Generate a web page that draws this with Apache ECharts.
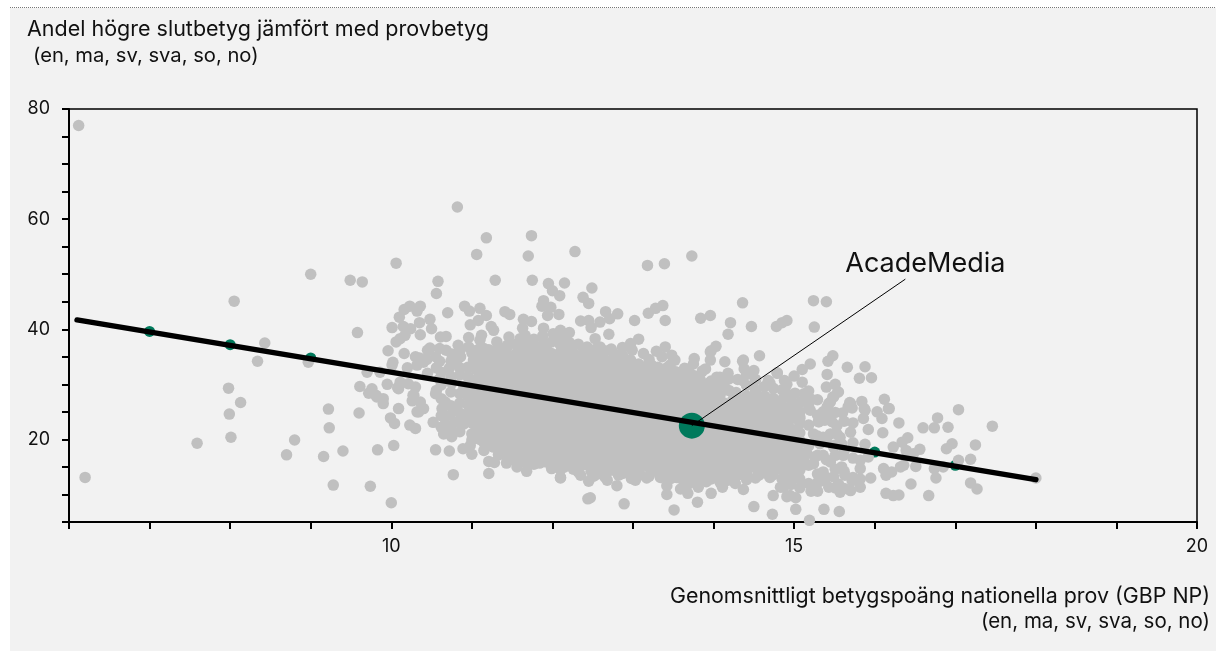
<!DOCTYPE html>
<html>
<head>
<meta charset="utf-8">
<script src="https://cdn.jsdelivr.net/npm/echarts@6/dist/echarts.min.js"></script>
<style>html,body{margin:0;padding:0;background:#fff}#c{width:1216px;height:651px}</style>
</head>
<body>
<div id="c"></div>
<script>
const titleLines = ['Andel högre slutbetyg jämfört med provbetyg', ' (en, ma, sv, sva, so, no)'];
const xAxisLines = ['Genomsnittligt betygspoäng nationella prov (GBP NP)', '(en, ma, sv, sva, so, no)'];
const highlightName = 'AcadeMedia';
const xTickLabels = [10, 15, 20];
const yTickLabels = [20, 40, 60, 80];
const trendLine = [[6.1, 41.7], [18, 12.7]];
const groupPoints = [[7, 39.6], [8, 37.2], [9, 34.8], [16, 17.7], [17, 15.3]];
const highlightPoint = [[13.73, 22.5]];
const leaderLine = [[13.73, 22.5], [16.38, 49.1]];
const schools = [
[6.12,77],[6.2,13.1],[7.98,29.3],[8.13,26.7],[7.99,24.6],[8.01,20.4],[7.59,19.3],[8.8,19.9],[8.7,17.2],[9.16,16.9],[9.4,17.9],[9.22,25.5],[9.23,22.1],[9.28,11.7],[9.74,11.5],[10,8.5],[9.83,18.1],[10.03,18.9],[9.6,24.8],[10.09,25.6],[9.61,29.6],[9.76,29.2],[9.72,28.4],[9.81,28],[9.9,27.4],[9.9,26.5],[9.95,30],[10.08,29.4],[9.99,23.9],[10.04,22.9],[10.23,22.6],[10.3,22],[10.26,27],[10.27,28],[10.32,25],
[8.05,45.1],[9,50],[8.43,37.5],[8.34,34.2],[8.97,34],[9.58,39.4],[10.06,52],
[10.82,62.2],[11.18,56.6],[11.06,53.6],[11.74,57],[11.7,53.3],[9.49,48.9],[9.64,48.6],[10.58,48.7],[10.56,46.5],[11.29,48.9],[11.75,48.9],[11.95,48.3],[12.15,48.4],[12,47],[12.09,46.1],[11.89,45.2],[11.87,44.2],[11.98,44],[11.94,42.5],[12.08,42.7],[10.91,44.2],[10.97,43.3],[11.1,43.8],[11.18,42.5],[11.08,41.6],[10.98,40.8],[11.24,40.5],[11.27,39.8],[11.41,43.2],[11.47,42.7],[11.64,41.8],[11.74,41.4],[11.63,40.2],[11.89,40.2],[10.7,43],[10.36,44.2],[10.23,44.2],[10.16,43.6],[10.32,43.3],[10.1,42.2],[10.48,41.8],[10.35,41.2],[10.01,40.3],[10.15,40.5],[10.24,40.1],[10.5,40.1],[10.17,38.9],[10.36,39],[10.11,38.3],[10.06,37.7],[9.96,36.1],[10.16,35.6],[10.02,34],[10.35,34.8],[10.44,34.5],[10.48,36.6],[10.61,38.6],[10.68,38.7],[10.6,36.5],[10.68,36.2],[10.96,38.5],[11.12,38.9],[11.1,38],[10.83,37.1],[10.96,36.8],[11.06,36.2],[10.86,35],[11.02,34.4],[11.15,36.5],[11.31,37.7],[11.46,38.6],[11.6,38.3],[11.68,37.7],[11.44,36.8],[11.89,37.4],[12.01,39.2],[12.1,39.8],[12.18,39.2],[12.1,37.1],[11.93,36.2],[11.72,35.6],[11.52,35],[11.27,35],[10.81,33.8],[11.1,33.8],[12.18,37.4],[12.05,35.3],[11.44,34.1],
[12.28,54.1],[13.18,51.6],[13.39,51.9],[13.73,53.3],[12.49,47.5],[12.38,45.8],[12.45,44.7],[12.66,43.2],[12.81,42.8],[12.71,41.9],[12.35,41.5],[12.45,41.6],[12.59,41.3],[12.48,40.3],[12.7,39.1],[12.21,39.4],[12.12,38.6],[13.02,41.6],[13.19,42.9],[13.28,43.8],[13.37,44.3],[13.4,41.6],[13.84,42],[13.96,42.5],[14.21,41.2],[14.18,39.1],[14.36,44.8],[14.47,40.5],[14.78,40.5],[14.85,41.2],[14.91,41.6],[13.07,38.2],[12.97,37.4],[12.87,36.7],[12.99,36.2],[12.73,36.4],[13.13,35.6],[12.59,36.8],[12.53,38.3],[12.24,36.5],[12.39,36.2],[12.63,35],[12.74,34.4],[12.97,34.4],[13.07,33.7],[13.29,36],[13.4,36.8],[13.48,35.3],[13.36,35],[13.46,33.5],[13.23,33.5],[13.52,34.4],[13.76,34.7],[14.03,36.9],[13.97,36.1],[13.96,34.4],[14.14,34.1],[14.18,32],[14.36,34.2],[14.38,32.8],[14.5,32.5],[14.57,35.2],[13.69,32.8],[13.59,31.9],[13.42,31.6],[13.83,31],[13.9,32.8],[14.04,31.3],[14.12,30.7],[14.36,30.7],[14.52,30.8],[14.68,30.7],[14.79,32],[14.91,30],[12.24,34.4],[12.45,33.8],[12.61,32.8],[12.34,33.2],[12.14,33.2],[12.84,32.5],[13.05,31.6],[13.26,31.3],[12.51,31.3],[12.76,31],[12.26,31.3],[13.5,30.7],[12.9,30.1],[13.13,30.1],[13.75,30.1],[13.92,30.1],
[15.24,45.2],[15.4,45],[15.25,40.4],[15.48,35.2],[15.42,34.2],[15.2,33.7],[15.66,33.1],[15.88,33.2],[15.81,31.1],[15.96,31.2],[15.41,31.8],[14.37,34.4],[14.28,28.5],[14.79,32.1],[14.88,30.7],[14.7,30.2],[15.1,32.7],[15,31.5],[15.1,30.4],[14.91,28.3],[15.01,28.4],[15.12,28.3],[15.2,27.4],[15.55,28.6],[15.48,27.7],[15.43,26.5],[15.36,25],[15,26.3],[15.2,25.3],[15.07,24.1],[14.95,25.9],[14.64,27.7],[14.52,28.3],[14.54,26.5],[14.72,26.5],[14.83,25.9],[14.48,25.9],[14.64,25],[15.7,26.5],[15.67,25.9],[15.6,24.8],[15.84,26.9],[15.87,25.6],[15.86,23.8],[16.03,25],[16.12,27.3],[16.17,25.6],[16.09,23.8],[16.3,23],[16.6,22.1],[16.74,22.1],[16.78,23.9],[16.91,22.2],[17.04,25.4],[17.46,22.4],[15.7,21.3],[15.92,21.8],[16.1,21.2],[15.31,23.2],[15.47,23.2],[15.24,21],[15.45,21],[15.53,21],[15.57,20.4],[14.87,24.1],[14.74,24.7],[14.5,23.5],[14.25,24.1],[14.08,31.3],[14.04,29.2],[13.75,33.7],[13.96,35.9],
[14.91,28.1],[15.19,27.2],[15.54,28.6],[15.49,27.7],[15.45,26.8],[15.41,25.9],[15.3,23.2],[15.38,23.5],[15.53,22.5],[15.69,26.7],[15.72,25.7],[15.88,25.3],[16.18,25.6],[15.36,20.4],[15.59,19.2],[15.73,19.4],[15.88,19.1],[16.41,20.3],[16.34,19.5],[16.23,18.6],[16.39,18],[16.56,18.2],[16.48,17.4],[16.96,19.2],[16.89,18.3],[17.25,19],[17.19,16.4],[17.04,16.2],[15.61,17.1],[15.82,16.2],[15.92,16.8],[16.36,15.3],[16.32,15],[16.51,15.1],[16.74,14.7],[16.85,15],[16.76,13],[16.45,11.9],[16.67,9.8],[17.19,12.1],[17.27,11],[16.14,10.2],[16.23,9.8],[16.3,9.9],[16.11,14.7],[16.14,13.5],[16.21,14.1],[15.95,13],[15.82,14.7],[15.82,12.8],[15.72,12.5],[15.82,11.3],[15.7,10.7],[15.57,10.4],[15.55,11.9],[15.43,11.3],[15.36,12.5],[15.49,13.2],[15.63,13.5],[15.36,14.1],[15.59,15],[15.45,15.9],[15.26,16.8],[15.36,17.1],[15.51,17.1],[15.24,15.6],[15.12,16.2],[14.99,17.1],[14.89,18],[15.03,18.6],[15.16,17.4],[14.89,15.9],[14.99,15.3],[15.03,14.1],[14.93,12.5],[15.21,10.6],[14.95,9.8],[15.02,9.4],[14.87,11.3],[15.02,7.3],[15.37,7.3],[15.56,6.9],[15.19,5.3],[15.32,19.2],[15.49,18.6],[15.07,19.8],[14.99,21.6],[14.89,22.5],[15.07,23.8],[15.03,24.7],[15.18,25.6],[14.83,25.3],[14.95,20.4],[18,13],
[12.44,9.2],[12.47,9.4],[12.89,8.3],[13.51,7.2],[13.8,8.6],[13.97,10.2],[14.5,7.8],[14.73,6.4],[14.74,9.8],[14.91,9.6],[14.83,11.3],[14.93,12.6],[12.1,13],[12.35,13.5],[12.45,12.4],[12.51,13.3],[12.68,12.6],[12.8,11.6],[13.03,12.6],[13.17,13],[12.82,13.5],[12.63,14.7],[12.9,15.3],[13.09,15],[13.34,13.1],[13.42,11.6],[13.42,10],[13.59,11],[13.68,10.2],[13.81,11.3],[13.54,13.1],[13.73,12.8],[13.87,13.5],[14.12,14.7],[14.37,10.9],[14.27,12],[14.11,11.3],[14.18,12.6],[14.41,13.5],[14.56,13.5],[14.7,13.1],[14,13.8],[12.12,15],[12.22,15.3],[12.47,15.6],[12.35,16.2],[12.55,16.5],[12.74,14.9],[13.25,14.4],[13.42,14.4],[13.71,14.9],[13.83,14.4],[14.29,14.4],[14.79,15],[14.95,13.7],
[10.01,33.5],[9.7,32.2],[9.86,32.2],[10.32,33.5],[10.4,34],[10.56,33],[9.82,27.7],[10.09,29.2],[10.21,30.1],[10.3,29.5],[10.11,30.4],[10.28,28],[10.36,26.8],[10.4,25.6],[10.34,25],[10.55,18.1],[10.72,17.9],[10.89,18.3],[10.98,18.9],[11,17.3],[11.15,18],[11.21,16],[11.28,15.8],[11.43,15.7],[11.56,15],[11.68,14.2],[10.77,13.6],[11.21,13.8],[11.84,15.7],[11.92,15.9],[12,15.3],[12.05,15.8],[12.18,15.3],[12.1,13.1],[11.64,17.1],[11.54,16.8],[11.37,17.7],[11.48,17.4],[11.87,18],[11.97,18.3],[12.14,17.4],
[10.56,28.9],[10.55,28.3],[10.67,26.8],[10.63,25.6],[10.79,25.3],[10.73,24.4],[10.67,22.8],[10.79,23.1],[10.52,23.1],[10.65,21],[10.75,20.5],[10.9,22.8],[11,21],[11.15,20.4],[11.31,19.8],[11.35,18.5],[11.43,21.3],[11.37,22.5],[11.19,21.6],[11.1,24],[11,24.4],[11.15,26.8],[11.02,26.2],[11.21,25.3],[10.9,23.8],
[10.2,33],[10.45,32],[10.6,31],[10.75,30.2],[10.85,31.7],[10.72,32.9],[10.9,29.5],[10.6,34.2],[10.3,35],[10.75,35.5],[10.45,36.2],[10.55,35]
];
const denseColumns = [
[10.62,[32.2,29.9,27.4,24.3,22.2]],[10.74,[34.2,31.4,28.6,26.1,21.9]],[10.85,[36,33,28.3,26.6,24.8,21.4]],
[10.95,[33.1,31.4,29.6,27.9,26.3,24.7]],[11,[35.7,30,28.7,23,19.9]],
[11.05,[34.6,32.7,30.9,29.2,27.5,25.8,23.9,22.3,20.6]],[11.1,[36,33.9,32.1,30.4,28.7,26.9,25.2,23.4,21.7,20]],
[11.15,[35.2,33.4,31.5,29.9,28.1,26.4,24.6,22.9,21.2,19.4]],[11.21,[36.3,34.6,32.8,31,29.3,27.5,25.8,24,22.3,20.6,18.9]],
[11.27,[34,32.2,30.5,28.6,26.9,25.2,23.5,21.8,20.1,18.6]],[11.33,[36.6,34.9,33,31.2,29.4,27.6,25.9,24.1,22.4,20.7,19,17.2]],
[11.38,[35.5,33.6,31.8,30,28.3,26.5,24.8,23,21.4,19.6,17.9]],[11.44,[37.1,35.4,33.5,31.7,29.9,28.2,26.4,24.7,22.9,21.2,19.5,17.7,16.4]],
[11.49,[34.9,33,31.2,29.4,27.7,25.9,24.2,22.5,20.7,19,17.2]],[11.55,[37.3,35.6,33.6,31.8,30,28.2,26.4,24.7,22.9,21.2,19.4,17.6,16.2]],
[11.6,[35.7,33.8,32,30.3,28.5,26.7,25,23.2,21.6,19.8,18,16.3]],[11.66,[38.9,37.1,35.2,33.4,31.5,29.8,28,26.2,24.4,22.7,21,19.2,17.5,15.8]],
[11.71,[36.3,34.5,32.7,30.9,29.1,27.3,25.6,23.9,22.1,20.4,18.7,17]],[11.77,[38.2,36.9,35,33.2,31.3,29.5,27.7,25.9,24.2,22.5,20.7,19,17.2,15.5]],
[11.82,[35.4,33.5,31.6,29.8,28,26.2,24.5,22.8,21,19.3,17.5,16]],[11.88,[38.8,36.8,34.8,33,31.1,29.3,27.5,25.7,24,22.3,20.5,18.8,17]],
[11.93,[36.1,34.2,32.4,30.6,28.8,27,25.3,23.6,21.9,20.1,18.4,16.6]],[11.99,[37.7,35.6,33.7,31.9,30.1,28.3,26.5,24.7,23,21.3,19.6,17.8,16.1,14.7]],
[12.04,[35,33.1,31.3,29.5,27.7,25.9,24.1,22.4,20.7,19,17.3,15.8]],[12.1,[37.9,35.8,34,32,30.2,28.4,26.6,24.8,23.1,21.4,19.6,17.9,16.3,14.5]],
[12.15,[36.4,34.6,32.7,30.8,29,27.2,25.5,23.8,22,20.3,18.5,16.8,15]],[12.21,[37.6,35.9,34.1,32.3,30.5,28.7,26.9,25.2,23.4,21.7,19.9,18.2,16.5]],
[12.26,[35.6,33.7,31.9,30.1,28.3,26.6,24.8,23.1,21.3,19.6,17.9,16.2,14.6]],[12.32,[37.3,35.1,33.4,31.5,29.7,27.9,26.1,24.4,22.7,20.9,19.2,17.5,15.8,14.1]],
[12.37,[34.8,33,31.1,29.3,27.5,25.7,24,22.2,20.5,18.8,17,15.3]],[12.43,[36.8,35,33.2,31.3,29.5,27.7,26,24.2,22.4,20.7,19,17.2,15.5]],
[12.48,[35.2,33.4,31.6,29.7,27.9,26.2,24.4,22.7,20.9,19.2,17.5,15.8,14.2]],[12.54,[36.4,34.8,33,31.1,29.3,27.5,25.7,24,22.2,20.5,18.7,17,15.3,13.6]],
[12.59,[34.2,32.4,30.6,28.8,27,25.3,23.5,21.8,20,18.3,16.6,14.9]],[12.65,[36.1,33.9,32.1,30.3,28.5,26.7,25,23.2,21.5,19.7,18,16.3,14.6,13.2]],
[12.7,[33.6,31.8,30,28.2,26.4,24.6,22.9,21.1,19.4,17.7,16,14.3]],[12.76,[35.6,33.4,32,30.1,28.3,26.5,24.8,23,21.2,19.5,17.8,16.1,14.4]],
[12.81,[34.7,32.9,31,29.2,27.4,25.6,23.9,22.1,20.4,18.6,16.9,15.2]],[12.87,[35.3,33.6,31.2,29.5,27.6,25.9,24.1,22.4,20.6,18.9,17.2,15.5,13.8]],
[12.92,[33.3,31.5,29.7,27.9,26.1,24.3,22.6,20.8,19.1,17.4,15.7,14]],[12.98,[33.9,32.1,30.4,28.6,26.8,25,23.2,21.4,19.7,18,16.2,14.5,12.9]],
[13.03,[32.6,30.8,29,27.2,25.4,23.7,21.9,20.2,18.4,16.7,15,13.4]],[13.09,[32.9,31,29.2,27.4,25.6,23.9,22.1,20.4,18.6,16.9,15.2,13.6]],
[13.14,[33.1,31.2,29.4,27.6,25.8,24.1,22.3,20.6,18.9,17.1,15.4]],[13.2,[34.5,32.5,30.7,28.9,27.1,25.3,23.6,21.8,20.1,18.4,16.6,14.9,13.3]],
[13.25,[32,30.2,28.4,26.6,24.9,23.1,21.4,19.6,17.9,16.2,14.6]],[13.31,[33.1,31.8,30,28.1,26.3,24.6,22.8,21,19.3,17.6,15.9,14.2]],
[13.36,[31.4,29.6,27.8,26,24.2,22.5,20.7,19,17.3,15.6,13.9]],[13.42,[33,30.7,28.9,27.1,25.3,23.5,21.8,20,18.3,16.6,14.9,13.2]],
[13.47,[31.9,30.1,28.3,26.5,24.7,23,21.2,19.5,17.8,16,14.4,12.9]],[13.53,[32.3,30.8,29,27.2,25.4,23.7,21.9,20.2,18.5,16.8,15.1,13.4]],
[13.58,[30.5,28.7,26.9,25.1,23.4,21.6,19.9,18.1,16.4,14.7,13]],[13.64,[32.9,30.9,29.1,27.2,25.5,23.7,21.9,20.2,18.5,16.7,15,13.3,11.7]],
[13.69,[31.2,29.4,27.6,25.8,24,22.3,20.5,18.8,17.1,15.4,13.7,11.9]],[13.75,[31.6,29.9,28.1,26.3,24.5,22.8,21,19.3,17.6,15.9,14.1,12.4]],
[13.8,[30.3,28.5,26.7,24.9,23.2,21.4,19.7,18,16.2,14.5,12.8]],[13.86,[32.4,30,28.2,26.4,24.6,22.9,21.1,19.4,17.6,15.9,14.2,12.6]],
[13.91,[29.6,27.8,26,24.2,22.5,20.7,19,17.2,15.5,13.9,12.3]],[13.97,[30.6,28.3,26.5,24.7,22.9,21.2,19.5,17.8,16,14.3,12.8]],
[14.02,[28.9,27.1,25.3,23.5,21.8,20,18.3,16.6,14.9,13.2]],[14.08,[30.4,28,26,24.2,22.4,20.7,18.9,17.2,15.5,13.8,12.2]],
[14.13,[29.8,26.6,24.8,23,21.3,19.5,17.8,16.1,14.4]],[14.19,[31,28.9,26,24.3,22.5,20.8,19,17.3,15.6,13.9]],
[14.24,[27.2,25.4,23.6,21.9,20.1,18.4,16.7,15,13.4]],[14.3,[30.9,27.3,25.5,23.8,22,20.3,18.5,16.8,15.2,13.5]],
[14.35,[26.5,24.7,22.9,21.2,19.4,17.7,16,14.3]],[14.41,[31.8,29.8,27.9,26,24.2,22.5,20.7,19,17.3,15.6,13.8,12.7]],
[14.46,[27.4,25.6,23.8,22,20.3,18.5,16.8,15.1]],[14.52,[30.9,29,27.2,25.3,23.5,21.7,20,18.2,16.5,14.8,13]],
[14.57,[26.1,24.3,22.5,20.8,19,17.3,15.6,13.9]],[14.63,[29.6,27.9,26,24.2,22.4,20.7,19,17.2,15.5,13.9]],
[14.68,[24.9,23.1,21.4,19.6,17.9,16.2,14.6]],[14.74,[29.3,27.5,25.7,23.9,22.2,20.4,18.7,17,15.3,13.6]],
[14.79,[23.6,21.8,20.1,18.3,16.6,14.9]],[14.85,[29,27.2,25,23.1,21.4,19.6,17.9,16.2,14.5,12.8]],
[14.9,[24.2,22.4,20.7,18.9,17.2,15.4,13.7]],[14.96,[27.4,25.6,23.7,21.9,20.1,18.4,16.7,15,13.3,11.8]],
[15.07,[26.7,25,22.9,21.2,19.4,17.7,16,14.4,12.8,11.2]],[15.18,[28.8,26.4,22.6,18.8,15.3,12]],
[15.29,[27.2,24.4,20.6,17.1,13.7,12.1,10.6]],[15.4,[29.5,24.4,20,16.3,13.1]],
[15.51,[30,24.9,19,14.6,11.2]],[15.62,[23.3,18,14.2,11.1]],[15.73,[23,16.6,13.1]]
];
const schoolPoints = schools.concat(denseColumns.flatMap(c => c[1].map(y => [c[0], y])));

const font = 'Inter, "Noto Sans", sans-serif';
const chart = echarts.init(document.getElementById('c'), null, {renderer: 'canvas'});
chart.setOption({
  animation: false,
  backgroundColor: '#fff',
  graphic: [
    {type: 'rect', z: -10, shape: {x: 10, y: 8, width: 1206, height: 643}, style: {fill: '#f2f2f2'}},
    {type: 'line', z: -9, shape: {x1: 10, y1: 7.5, x2: 1216, y2: 7.5}, style: {stroke: '#777', lineWidth: 1, lineDash: [1, 1]}},
    {type: 'text', z: 5, x: 1210, y: 584, style: {text: xAxisLines[0], textAlign: 'right', font: '400 21.4px ' + font, lineHeight: 25, fill: '#111'}},
    {type: 'text', z: 5, x: 1210, y: 609, style: {text: xAxisLines[1], textAlign: 'right', font: '400 20.5px ' + font, lineHeight: 25, fill: '#111'}},
    {type: 'text', z: 5, x: 27, y: 17, style: {text: titleLines[0], textAlign: 'left', font: '400 21.5px ' + font, lineHeight: 26, fill: '#111'}},
    {type: 'text', z: 5, x: 33, y: 43, style: {text: titleLines[1].trim(), textAlign: 'left', font: '400 20.2px ' + font, lineHeight: 26, fill: '#111'}}
  ],
  grid: {left: 69, right: 19, top: 109, bottom: 129, show: true, borderColor: '#000', borderWidth: 1.5, backgroundColor: 'transparent'},
  xAxis: {
    type: 'value', min: 6, max: 20, interval: 1,
    splitLine: {show: false},
    axisLine: {show: true, onZero: false, lineStyle: {color: '#000', width: 2}},
    axisTick: {show: true, length: 7, lineStyle: {color: '#000', width: 2}},
    axisLabel: {margin: 16, fontFamily: font, fontSize: 18, color: '#111', hideOverlap: false,
      formatter: v => xTickLabels.includes(v) ? String(v) : ''}
  },
  yAxis: {
    type: 'value', min: 5, max: 80, interval: 5,
    splitLine: {show: false},
    axisLine: {show: true, onZero: false, lineStyle: {color: '#000', width: 2}},
    axisTick: {show: true, length: 7, lineStyle: {color: '#000', width: 2}},
    axisLabel: {margin: 19, fontFamily: font, fontSize: 18, color: '#111', hideOverlap: false,
      formatter: v => yTickLabels.includes(v) ? String(v) : ''}
  },
  series: [
    {name: 'Grupp', type: 'scatter', data: groupPoints, symbolSize: 11, itemStyle: {color: '#007a5c', opacity: 1}, silent: true},
    {name: 'Skolor', type: 'scatter', data: schoolPoints, symbolSize: 11.5, itemStyle: {color: '#c0c0c0', opacity: 1}, silent: true},
    {name: 'Pekare', type: 'line', data: [leaderLine[0], {value: leaderLine[1], label: {show: true, formatter: highlightName, position: 'top', distance: 2, offset: [20, 0], fontFamily: font, fontSize: 27, color: '#111'}}],
      symbol: 'circle', symbolSize: 0, lineStyle: {color: '#000', width: 1}, silent: true},
    {name: highlightName, type: 'scatter', data: highlightPoint, symbolSize: 26, itemStyle: {color: '#007a5c', opacity: 1}, silent: true},
    {name: 'Trend', type: 'line', data: trendLine, symbol: 'none', lineStyle: {color: '#000', width: 5.5, cap: 'round'}, silent: true}
  ]
});
</script>
</body>
</html>
